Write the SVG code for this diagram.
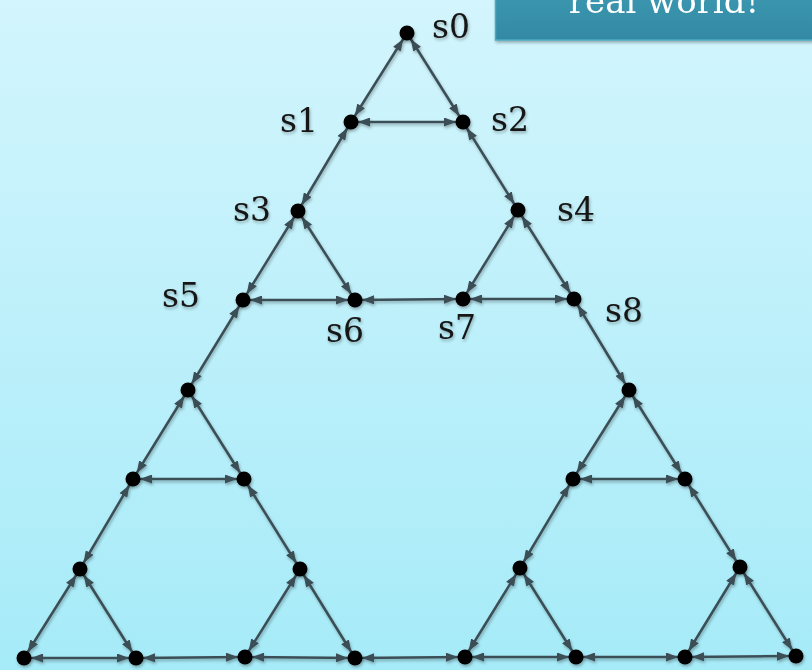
<svg xmlns="http://www.w3.org/2000/svg" width="812" height="670" viewBox="0 0 812 670">
<defs>
<linearGradient id="bg" x1="0" y1="0" x2="0" y2="1">
<stop offset="0" stop-color="#d3f5fd"/>
<stop offset="1" stop-color="#a6ebf8"/>
</linearGradient>
<linearGradient id="boxg" x1="0" y1="0" x2="0" y2="1">
<stop offset="0" stop-color="#3c98b2"/>
<stop offset="1" stop-color="#3389a2"/>
</linearGradient>
<filter id="sh" x="-20%" y="-20%" width="140%" height="140%">
<feDropShadow dx="1" dy="2" stdDeviation="1.5" flood-color="#000" flood-opacity="0.3"/>
</filter>
<marker id="ah" viewBox="0 0 12 9" refX="19" refY="4.5" markerWidth="12" markerHeight="9" markerUnits="userSpaceOnUse" orient="auto-start-reverse">
<path d="M0,0 L12,4.5 L0,9 z" fill="#3b4d55"/>
</marker>
</defs>
<style>
.e{stroke:#3b4d55;stroke-width:2.5;fill:none;marker-start:url(#ah);marker-end:url(#ah)}
.n{fill:#000}
.lb{font-family:"DejaVu Serif","Liberation Serif",serif;font-size:33px;fill:#151515}
</style>
<rect width="812" height="670" fill="url(#bg)"/>
<g id="banner" filter="url(#sh)">
<rect x="495.5" y="-10" width="330" height="50" fill="url(#boxg)" stroke="#4ea9c3" stroke-width="1.5"/>
<text x="664" y="13" text-anchor="middle" font-family="DejaVu Serif, Liberation Serif, serif" font-size="34" fill="#fff">real world!</text>
</g>
<g id="edges" filter="url(#sh)">
<line class="e" x1="407" y1="33" x2="351" y2="122"/>
<line class="e" x1="407" y1="33" x2="463" y2="122"/>
<line class="e" x1="351" y1="122" x2="463" y2="122"/>
<line class="e" x1="351" y1="122" x2="298" y2="211"/>
<line class="e" x1="463" y1="122" x2="518" y2="210"/>
<line class="e" x1="298" y1="211" x2="243" y2="300"/>
<line class="e" x1="298" y1="211" x2="355" y2="300"/>
<line class="e" x1="243" y1="300" x2="355" y2="300"/>
<line class="e" x1="355" y1="300" x2="463" y2="299"/>
<line class="e" x1="518" y1="210" x2="463" y2="299"/>
<line class="e" x1="518" y1="210" x2="574" y2="299"/>
<line class="e" x1="463" y1="299" x2="574" y2="299"/>
<line class="e" x1="243" y1="300" x2="188" y2="390"/>
<line class="e" x1="574" y1="299" x2="629" y2="390"/>
<line class="e" x1="188" y1="390" x2="133" y2="479"/>
<line class="e" x1="188" y1="390" x2="244" y2="479"/>
<line class="e" x1="133" y1="479" x2="244" y2="479"/>
<line class="e" x1="629" y1="390" x2="573" y2="479"/>
<line class="e" x1="629" y1="390" x2="685" y2="479"/>
<line class="e" x1="573" y1="479" x2="685" y2="479"/>
<line class="e" x1="133" y1="479" x2="80" y2="569"/>
<line class="e" x1="244" y1="479" x2="300" y2="569"/>
<line class="e" x1="573" y1="479" x2="520" y2="568"/>
<line class="e" x1="685" y1="479" x2="740" y2="567"/>
<line class="e" x1="80" y1="569" x2="24" y2="658"/>
<line class="e" x1="80" y1="569" x2="136" y2="658"/>
<line class="e" x1="24" y1="658" x2="136" y2="658"/>
<line class="e" x1="136" y1="658" x2="245" y2="657"/>
<line class="e" x1="300" y1="569" x2="245" y2="657"/>
<line class="e" x1="300" y1="569" x2="355" y2="658"/>
<line class="e" x1="245" y1="657" x2="355" y2="658"/>
<line class="e" x1="355" y1="658" x2="465" y2="657"/>
<line class="e" x1="520" y1="568" x2="465" y2="657"/>
<line class="e" x1="520" y1="568" x2="576" y2="657"/>
<line class="e" x1="465" y1="657" x2="576" y2="657"/>
<line class="e" x1="576" y1="657" x2="685" y2="657"/>
<line class="e" x1="740" y1="567" x2="685" y2="657"/>
<line class="e" x1="740" y1="567" x2="796" y2="656"/>
<line class="e" x1="685" y1="657" x2="796" y2="656"/>
</g>
<g filter="url(#sh)">
<g id="s0"><circle class="n" cx="407" cy="33" r="7.5"/><text class="lb" x="432" y="38">s0</text></g>
<g id="s1"><circle class="n" cx="351" cy="122" r="7.5"/><text class="lb" x="280" y="132">s1</text></g>
<g id="s2"><circle class="n" cx="463" cy="122" r="7.5"/><text class="lb" x="491" y="131">s2</text></g>
<g id="s3"><circle class="n" cx="298" cy="211" r="7.5"/><text class="lb" x="233" y="221">s3</text></g>
<g id="s4"><circle class="n" cx="518" cy="210" r="7.5"/><text class="lb" x="557" y="221">s4</text></g>
<g id="s5"><circle class="n" cx="243" cy="300" r="7.5"/><text class="lb" x="162" y="307">s5</text></g>
<g id="s6"><circle class="n" cx="355" cy="300" r="7.5"/><text class="lb" x="326" y="342">s6</text></g>
<g id="s7"><circle class="n" cx="463" cy="299" r="7.5"/><text class="lb" x="438" y="339">s7</text></g>
<g id="s8"><circle class="n" cx="574" cy="299" r="7.5"/><text class="lb" x="605" y="322">s8</text></g>
<g id="n9"><circle class="n" cx="188" cy="390" r="7.5"/></g>
<g id="n10"><circle class="n" cx="629" cy="390" r="7.5"/></g>
<g id="n11"><circle class="n" cx="133" cy="479" r="7.5"/></g>
<g id="n12"><circle class="n" cx="244" cy="479" r="7.5"/></g>
<g id="n13"><circle class="n" cx="573" cy="479" r="7.5"/></g>
<g id="n14"><circle class="n" cx="685" cy="479" r="7.5"/></g>
<g id="n15"><circle class="n" cx="80" cy="569" r="7.5"/></g>
<g id="n16"><circle class="n" cx="300" cy="569" r="7.5"/></g>
<g id="n17"><circle class="n" cx="520" cy="568" r="7.5"/></g>
<g id="n18"><circle class="n" cx="740" cy="567" r="7.5"/></g>
<g id="n19"><circle class="n" cx="24" cy="658" r="7.5"/></g>
<g id="n20"><circle class="n" cx="136" cy="658" r="7.5"/></g>
<g id="n21"><circle class="n" cx="245" cy="657" r="7.5"/></g>
<g id="n22"><circle class="n" cx="355" cy="658" r="7.5"/></g>
<g id="n23"><circle class="n" cx="465" cy="657" r="7.5"/></g>
<g id="n24"><circle class="n" cx="576" cy="657" r="7.5"/></g>
<g id="n25"><circle class="n" cx="685" cy="657" r="7.5"/></g>
<g id="n26"><circle class="n" cx="796" cy="656" r="7.5"/></g>
</g>
</svg>
